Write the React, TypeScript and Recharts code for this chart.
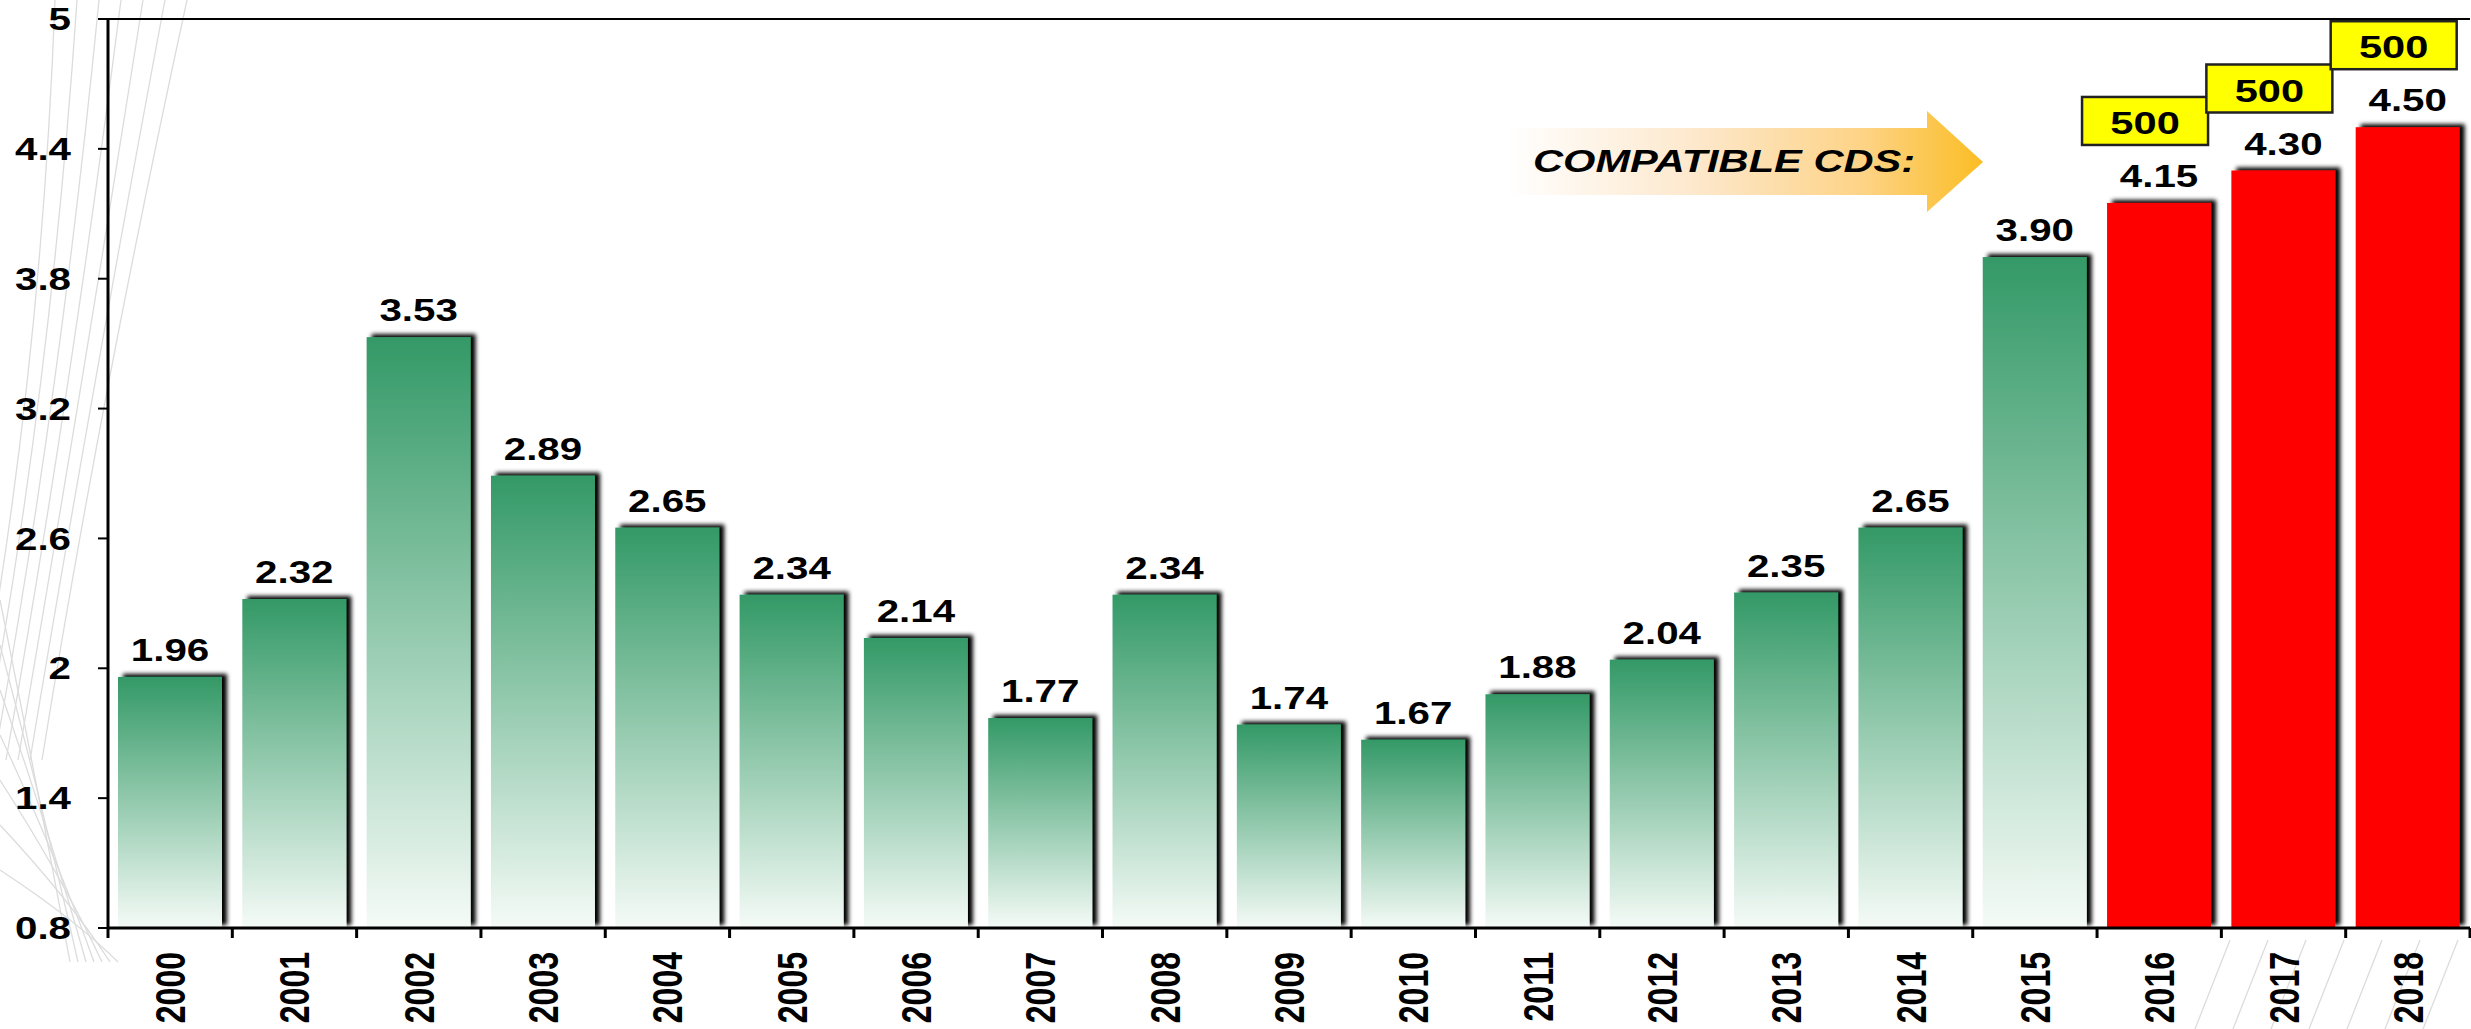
import React from 'react';
import { BarChart, Bar, XAxis, YAxis, LabelList, ReferenceLine } from 'recharts';

const years = [
	'2000', '2001', '2002', '2003', '2004', '2005', '2006', '2007', '2008', '2009',
	'2010', '2011', '2012', '2013', '2014', '2015', '2016', '2017', '2018',
];

const avgValues = [
	1.96, 2.32, 3.53, 2.89, 2.65, 2.34, 2.14, 1.77, 2.34, 1.74,
	1.67, 1.88, 2.04, 2.35, 2.65, 3.9, 4.15, 4.3, 4.5,
];

// compatible CDs, only known for the last three years
const compatibleCds = [
	null, null, null, null, null, null, null, null, null, null,
	null, null, null, null, null, null, 500, 500, 500,
];

const yTicks = [0.8, 1.4, 2, 2.6, 3.2, 3.8, 4.4, 5];

const data = years.map((year, i) => ({
	year,
	value: avgValues[i],
	cds: compatibleCds[i],
}));

const CHART_W = 2471;
const CHART_H = 1029;
const PLOT_LEFT = 108;
const PLOT_RIGHT = 2470;
const PLOT_BOTTOM = 928;
const BAND = (PLOT_RIGHT - PLOT_LEFT) / years.length;
// the original picture is stretched sideways, so every text is too
const STRETCH = 1.3;
const FONT = '"Liberation Sans", Arial, Helvetica, sans-serif';

const XTick = ({ x, payload }: any) => {
	const left = x - BAND / 2;
	const isLast = payload.value === years[years.length - 1];
	return (
		<g>
			<line x1={left} x2={left} y1={PLOT_BOTTOM} y2={PLOT_BOTTOM + 10} stroke='#000' strokeWidth={3} />
			{isLast && (
				<line x1={x + BAND / 2} x2={x + BAND / 2} y1={PLOT_BOTTOM} y2={PLOT_BOTTOM + 10} stroke='#000' strokeWidth={3} />
			)}
			<text
				transform={`translate(${x + 15},${PLOT_BOTTOM + 24}) rotate(-90) scale(1,${STRETCH})`}
				textAnchor='end'
				fontFamily={FONT}
				fontWeight={700}
				fontSize={32}
				fill='#000'
			>
				{payload.value}
			</text>
		</g>
	);
};

const YTick = ({ x, y, payload }: any) => (
	<text
		transform={`translate(${x},${y}) scale(${STRETCH},1)`}
		textAnchor='end'
		dy='0.36em'
		fontFamily={FONT}
		fontWeight={700}
		fontSize={31}
		fill='#000'
	>
		{payload.value}
	</text>
);

const BarShape = (props: any) => {
	const { x, y, width, height, payload } = props;
	const fill = payload.cds != null ? '#ff0000' : 'url(#greenFade)';
	return <rect x={x} y={y} width={width} height={height} fill={fill} filter='url(#barShadow)' />;
};

const ValueLabel = (props: any) => {
	const vb = props.viewBox || props;
	const { x, y, width } = vb;
	return (
		<text
			transform={`translate(${x + width / 2},${y - 16}) scale(${STRETCH},1)`}
			textAnchor='middle'
			fontFamily={FONT}
			fontWeight={700}
			fontSize={31}
			fill='#000'
		>
			{Number(props.value).toFixed(2)}
		</text>
	);
};

const CdsBox = (props: any) => {
	if (props.value == null) return null;
	const vb = props.viewBox || props;
	const { x, y, width } = vb;
	const boxW = 126;
	const left = x + width / 2 - boxW / 2 - 14;
	const top = y - 106;
	return (
		<g>
			<rect x={left} y={top} width={boxW} height={48} fill='#ffff00' stroke='#222' strokeWidth={2.5} />
			<text
				transform={`translate(${left + boxW / 2},${top + 37}) scale(${STRETCH},1)`}
				textAnchor='middle'
				fontFamily={FONT}
				fontWeight={700}
				fontSize={32}
				fill='#000'
			>
				{props.value}
			</text>
		</g>
	);
};

const Backdrop = () => {
	const rows = [0, 1, 2, 3, 4, 5, 6];
	return (
		<svg width={CHART_W} height={CHART_H} style={{ position: 'absolute', left: 0, top: 0 }}>
			<g stroke='#dcdcdc' strokeWidth={1.3} fill='none'>
				{rows.map((i) => (
					<path key={'a' + i} d={`M${55 + i * 22},0 Q${40 + i * 10},400 ${-30 + i * 12},760`} />
				))}
				{rows.map((i) => (
					<path key={'b' + i} d={`M0,${600 + i * 45} Q${40 + i * 6},${800 + i * 20} ${70 + i * 8},962`} />
				))}
				{rows.map((i) => (
					<path key={'c' + i} d={`M${2230 + i * 38},940 L${2195 + i * 38},1029`} />
				))}
			</g>
		</svg>
	);
};

const Arrow = () => (
	<svg width={CHART_W} height={CHART_H} style={{ position: 'absolute', left: 0, top: 0, pointerEvents: 'none' }}>
		<defs>
			<linearGradient id='arrowFade' gradientUnits='userSpaceOnUse' x1={1505} y1={0} x2={1983} y2={0}>
				<stop offset='0' stopColor='#ffffff' />
				<stop offset='0.4' stopColor='#fde8cc' />
				<stop offset='0.75' stopColor='#fdd386' />
				<stop offset='1' stopColor='#fbbd24' />
			</linearGradient>
		</defs>
		<path d='M1505,128 L1927,128 L1927,111 L1983,162 L1927,212 L1927,195 L1505,195 Z' fill='url(#arrowFade)' />
		<text
			transform={`translate(1533,172) scale(${STRETCH},1)`}
			fontFamily={FONT}
			fontWeight={700}
			fontStyle='italic'
			fontSize={32}
			fill='#000'
		>
			COMPATIBLE CDS:
		</text>
	</svg>
);

export default function App() {
	return (
		<div style={{ position: 'absolute', left: 0, top: 0, width: CHART_W, height: CHART_H, background: '#fff' }}>
			<Backdrop />
			<div style={{ position: 'absolute', left: 0, top: 0 }}>
				<BarChart
					width={CHART_W}
					height={CHART_H}
					data={data}
					margin={{ top: 19, right: CHART_W - PLOT_RIGHT, left: 0, bottom: 0 }}
				>
					<defs>
						<linearGradient id='greenFade' x1='0' y1='0' x2='0' y2='1'>
							<stop offset='0' stopColor='#339966' />
							<stop offset='1' stopColor='#f5fbf7' />
						</linearGradient>
						<filter id='barShadow' x='-10%' y='-10%' width='130%' height='130%'>
							<feDropShadow dx={5} dy={-3} stdDeviation={2.2} floodColor='#000' floodOpacity={1} />
						</filter>
					</defs>
					<ReferenceLine y={5} stroke='#000' strokeWidth={2} />
					<XAxis
						dataKey='year'
						height={CHART_H - PLOT_BOTTOM}
						interval={0}
						axisLine={{ stroke: '#000', strokeWidth: 3 }}
						tickLine={false}
						tick={(p: any) => <XTick {...p} />}
					/>
					<YAxis
						width={PLOT_LEFT}
						domain={[0.8, 5]}
						ticks={yTicks}
						interval={0}
						axisLine={{ stroke: '#000', strokeWidth: 3 }}
						tickLine={{ stroke: '#000', strokeWidth: 2 }}
						tickSize={10}
						tickMargin={27}
						tick={(p: any) => <YTick {...p} />}
					/>
					<Bar dataKey='value' barSize={104} shape={BarShape} isAnimationActive={false}>
						<LabelList dataKey='value' content={ValueLabel} />
						<LabelList dataKey='cds' content={CdsBox} />
					</Bar>
				</BarChart>
			</div>
			<Arrow />
		</div>
	);
}
